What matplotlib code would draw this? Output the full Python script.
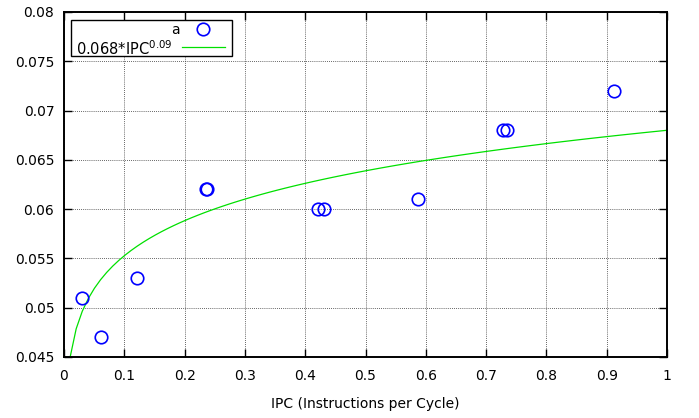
import numpy as np
import matplotlib
matplotlib.use("Agg")
from matplotlib import pyplot as plt
from matplotlib.lines import Line2D
from matplotlib.patches import Rectangle

# measured points (IPC, value)
ipc = [0.030, 0.061, 0.121, 0.236, 0.237, 0.421, 0.431, 0.587, 0.728, 0.734, 0.912]
val = [0.051, 0.047, 0.053, 0.062, 0.062, 0.060, 0.060, 0.061, 0.068, 0.068, 0.072]

# fitted curve 0.068*IPC^0.09, gnuplot default 100 samples
fit_coef = 0.068
fit_exp = 0.09
n_samples = 100

xticks = [0, 0.1, 0.2, 0.3, 0.4, 0.5, 0.6, 0.7, 0.8, 0.9, 1]
xtick_labels = ["0", "0.1", "0.2", "0.3", "0.4", "0.5", "0.6", "0.7", "0.8", "0.9", "1"]
yticks = [0.045, 0.05, 0.055, 0.06, 0.065, 0.07, 0.075, 0.08]
ytick_labels = ["0.045", "0.05", "0.055", "0.06", "0.065", "0.07", "0.075", "0.08"]

plt.rcParams['font.family'] = ['DejaVu Sans']

fig = plt.figure(figsize=(6.99, 4.18), dpi=100)
ax = fig.add_axes((64/699, 1 - 357/418, 603/699, 345/418))

xs = np.linspace(0, 1, n_samples)
ax.plot(xs, fit_coef * xs**fit_exp, color='#00e000', lw=0.9, zorder=2)
ax.plot(ipc, val, 'o', ms=9, mfc='none', mec='#0000ff', mew=1.2, zorder=3)

ax.set_xlim(0, 1)
ax.set_ylim(0.045, 0.08)
ax.set_xticks(xticks, xtick_labels)
ax.set_yticks(yticks, ytick_labels)
ax.tick_params(direction='in', length=6, width=1, labelsize=10, colors='black',
               top=True, right=True, pad=7)
ax.tick_params(axis='x', pad=9)
for s in ax.spines.values():
    s.set_linewidth(1.4)
ax.grid(True, color='#333333', linestyle=(0, (1, 1.5)), linewidth=0.6)
ax.set_xlabel("IPC (Instructions per Cycle)", fontsize=10, labelpad=10)

# gnuplot style key, text right aligned before the sample
def fx(px):
    return (px - 64) / 603

def fy(py):
    return (357 - py) / 345

ax.add_patch(Rectangle((fx(71), fy(56)), fx(232) - fx(71), fy(20) - fy(56),
                       transform=ax.transAxes, facecolor='white', edgecolor='black',
                       lw=1, zorder=5))
ax.text(fx(180), fy(30), "a", transform=ax.transAxes, ha='right', va='center',
        fontsize=10, zorder=6)
ax.add_line(Line2D([fx(203)], [fy(29)], transform=ax.transAxes, marker='o', ms=9,
                   mfc='none', mec='#0000ff', mew=1.2, zorder=6))
ax.text(fx(173), fy(49), "0.068*IPC$^{0.09}$", transform=ax.transAxes, ha='right',
        va='center', fontsize=10.5, zorder=6)
ax.add_line(Line2D([fx(182), fx(225)], [fy(47), fy(47)], transform=ax.transAxes,
                   color='#00e000', lw=0.9, zorder=6))

fig.savefig("out.png", dpi=100)
